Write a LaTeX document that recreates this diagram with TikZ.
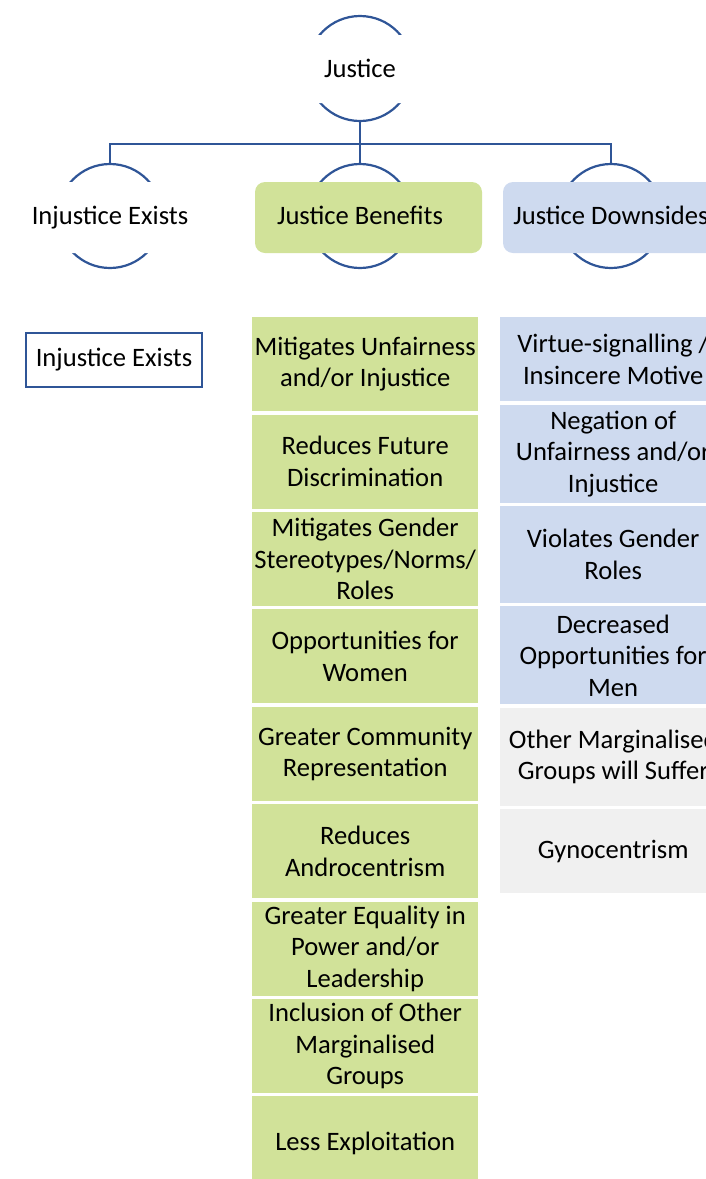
\documentclass[tikz,border=0pt]{standalone}
\usepackage{fontspec}
\setmainfont{Carlito}
\usetikzlibrary{positioning}

\definecolor{lineblue}{RGB}{47,85,151}
\definecolor{benefitgreen}{RGB}{209,226,153}
\definecolor{downblue}{RGB}{206,218,239}
\definecolor{othergray}{RGB}{240,240,240}

\begin{document}
\begin{tikzpicture}[x=1pt,y=1pt,
		every node/.style={font=\fontsize{26.6}{31.5}\selectfont},
		ring/.style={circle,draw=lineblue,line width=2.2pt,minimum size=104pt,inner sep=0pt},
		cover/.style={rectangle,rounded corners=10pt,minimum width=227pt,minimum height=71pt,inner sep=0pt},
		title text/.style={anchor=base,inner sep=0pt},
		item/.style={rectangle,align=center,minimum width=226pt,inner sep=0pt},
		benefit/.style={item,fill=benefitgreen,minimum height=94pt},
		downside/.style={item,fill=downblue},
		other/.style={item,fill=othergray},
		link/.style={draw=lineblue,line width=2.2pt}]
		\useasboundingbox (0,0) rectangle (706,-1179);
		\clip (0,0) rectangle (706,-1179);

		% hierarchy rings
		\node[ring,minimum size=105pt] (j) at (360,-68.5) {};
		\node[ring] (ie) at (110,-216) {};
		\node[ring] (jb) at (360,-216) {};
		\node[ring] (jd) at (611,-216) {};

		\node[cover,fill=white,minimum height=68pt] (jbox) at (368,-69) {};
		\node[cover,fill=white] (iebox) at (118,-217.5) {};
		\node[cover,fill=benefitgreen] (jbbox) at (368.5,-217.5) {};
		\node[cover,fill=downblue] (jdbox) at (616.5,-217.5) {};

		\node[title text] (jt) at (360,-77) {Justice};
		\node[title text] (iet) at (110,-224) {Injustice Exists};
		\node[title text] (jbt) at (360,-224) {Justice Benefits};
		\node[title text] (jdt) at (611,-224) {Justice Downsides};

		\path[link] (j.south) -- ++(0,-22) -| (ie.north);
		\path[link] (j.south) -- ++(0,-22) -| (jd.north);
		\path[link] (j.south) -- (jb.north);

		% lists
		\node[draw=lineblue,line width=1.4pt,minimum width=176pt,minimum height=54pt,inner sep=0pt] (ex) at (114,-360) {Injustice Exists};

		\node[benefit,anchor=north west] (b1) at (252,-317) {Mitigates Unfairness\\and/or Injustice};
		\node[benefit,below=3pt of b1] (b2) {Reduces Future\\Discrimination};
		\node[benefit,below=3pt of b2] (b3) {Mitigates Gender\\Stereotypes/Norms/\\Roles};
		\node[benefit,below=3pt of b3] (b4) {Opportunities for\\Women};
		\node[benefit,below=3pt of b4] (b5) {Greater Community\\Representation};
		\node[benefit,below=3pt of b5] (b6) {Reduces\\Androcentrism};
		\node[benefit,below=3pt of b6] (b7) {Greater Equality in\\Power and/or\\Leadership};
		\node[benefit,below=3pt of b7] (b8) {Inclusion of Other\\Marginalised\\Groups};
		\node[benefit,below=3pt of b8] (b9) {Less Exploitation};

		\node[downside,minimum height=84pt,anchor=north west] (d1) at (500,-317) {Virtue-signalling /\\Insincere Motive};
		\node[downside,minimum height=98pt,below=3pt of d1] (d2) {Negation of\\Unfairness and/or\\Injustice};
		\node[downside,minimum height=97pt,below=3pt of d2] (d3) {Violates Gender\\Roles};
		\node[downside,minimum height=98pt,below=3pt of d3] (d4) {Decreased\\Opportunities for\\Men};
		\node[other,minimum height=98pt,below=3pt of d4] (d5) {Other Marginalised\\Groups will Suffer};
		\node[other,minimum height=84pt,below=3pt of d5] (d6) {Gynocentrism};
\end{tikzpicture}
\end{document}
